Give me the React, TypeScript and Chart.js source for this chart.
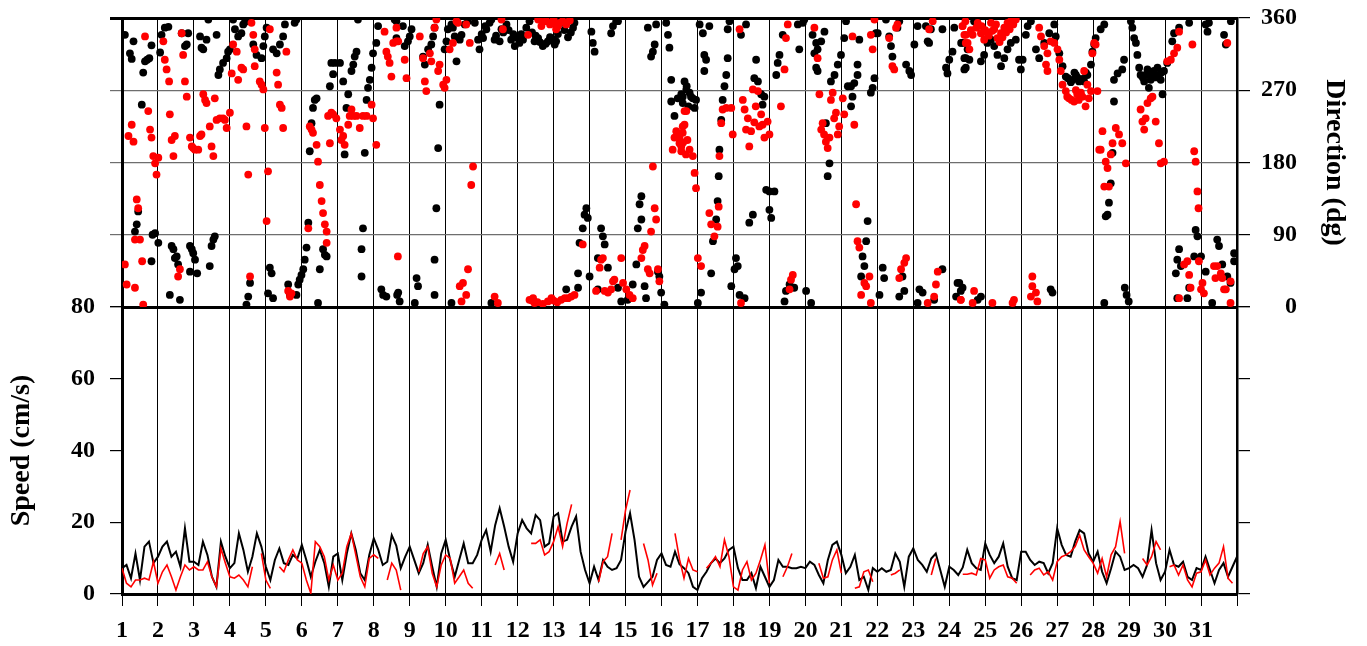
import { useEffect, useRef } from 'react';
import { Chart, registerables } from 'chart.js';

Chart.register(...registerables);

const FONT = '"Liberation Serif", "Times New Roman", Times, serif';

// ---- x axis (days) ----
const dayMin = 1;
const dayMax = 32;
const dayLabels = ['1','2','3','4','5','6','7','8','9','10','11','12','13','14','15','16','17','18','19','20','21','22','23','24','25','26','27','28','29','30','31',''];

// ---- tick labels ----
const speedTicks = [0, 20, 40, 60, 80];
const dirTickLabels = ['    0', '  90', '180', '270', '360'];

// ---- speed series (cm/s), one value every 3 h starting day 1.0 ----
const speedStart = 1;
const speedStep = 0.125;
const speedBlack = [
  7.2, 8.1, 4.4, 11.3, 3.9, 13.2, 14.6, 8.6,
  10.4, 13.2, 14.6, 10.4, 11.8, 7.6, 18.3, 9.0,
  9.0, 8.1, 14.6, 10.9, 4.8, 2.0, 14.6, 10.4,
  7.2, 8.6, 16.9, 12.3, 6.2, 10.4, 16.9, 13.2,
  7.6, 3.9, 9.5, 12.7, 8.6, 8.1, 10.9, 9.9,
  13.7, 9.5, 4.8, 9.0, 12.3, 8.6, 2.0, 10.4,
  11.3, 3.9, 11.3, 16.9, 12.3, 5.8, 3.9, 10.9,
  15.5, 12.3, 8.1, 9.0, 16.4, 13.5, 7.2, 10.4,
  13.2, 9.5, 5.8, 8.6, 13.7, 7.6, 2.0, 11.3,
  15.1, 9.5, 4.8, 9.5, 14.1, 8.6, 8.6, 10.9,
  15.1, 17.8, 11.8, 19.2, 23.9, 18.8, 13.2, 9.0,
  16.9, 20.6, 18.3, 16.9, 22.0, 20.6, 13.2, 14.1,
  21.6, 22.5, 14.6, 15.1, 18.8, 21.6, 11.8, 6.7,
  3.0, 7.6, 3.9, 9.5, 7.6, 6.7, 7.2, 9.5,
  17.4, 22.5, 15.1, 4.8, 2.0, 3.4, 4.8, 9.5,
  11.3, 8.1, 7.6, 11.8, 8.3, 7.2, 5.8, 2.0,
  1.1, 4.4, 6.2, 8.6, 9.9, 8.6, 9.9, 12.3,
  13.2, 7.2, 3.9, 3.9, 5.8, 1.6, 7.6, 4.8,
  2.0, 3.9, 9.5, 7.6, 7.6, 7.2, 7.2, 7.6,
  7.2, 9.0, 8.1, 5.3, 3.0, 9.5, 13.7, 14.6,
  10.9, 5.8, 7.6, 10.9, 3.9, 4.8, 1.1, 7.2,
  6.2, 7.2, 6.2, 6.7, 11.3, 9.0, 2.0, 10.4,
  12.7, 9.5, 8.1, 6.2, 9.9, 11.3, 6.7, 2.0,
  7.6, 6.7, 5.3, 7.4, 12.3, 8.6, 7.2, 6.7,
  14.1, 10.9, 8.6, 10.4, 14.1, 7.6, 4.4, 3.9,
  11.8, 11.8, 9.5, 8.1, 9.0, 8.6, 5.8, 8.6,
  18.3, 13.7, 10.9, 10.4, 14.6, 17.8, 16.9, 11.3,
  9.0, 11.8, 6.2, 3.0, 7.2, 11.8, 10.4, 6.7,
  7.2, 8.1, 7.2, 4.8, 8.1, 17.8, 8.6, 3.9,
  6.2, 12.3, 8.1, 7.6, 9.0, 4.8, 3.9, 7.2,
  6.7, 10.4, 6.7, 3.0, 6.7, 8.6, 4.8, 7.6,
  10.4,
];
const speedRed = [
  7.2, 3.0, 2.0, 3.9, 3.9, 4.4, 3.9, 9.0,
  3.0, 6.2, 8.1, 4.8, 1.1, 4.8, 8.1, 6.7,
  7.6, 6.7, 6.7, 9.0, 4.8, 2.0, 12.7, 8.6,
  4.8, 4.4, 5.3, 3.9, 2.0, 7.6, null, 11.3,
  3.9, 1.6, null, 7.6, 6.2, 9.5, 12.3, 9.5,
  8.6, 3.9, 0.2, 14.6, 13.2, 10.4, 3.9, 8.1,
  3.9, 5.8, 13.2, 16.9, 10.9, 4.8, 2.0, 9.9,
  10.9, 9.9, null, 3.9, 8.6, 6.7, 1.1, null,
  null, null, 6.2, 11.3, 13.2, 5.8, 2.0, 8.1,
  10.9, 9.9, 3.0, 4.8, 6.7, 3.0, 1.6, null,
  null, null, null, 8.1, 11.3, 6.7, null, null,
  null, null, null, 14.1, 14.1, 15.1, 10.9, 11.8,
  14.6, 18.8, 13.2, 19.7, 25.0, null, null, null,
  null, null, 3.4, 9.0, 10.4, 16.9, null, 15.1,
  23.4, 29.0, null, null, 14.1, 9.5, 2.5, 5.8,
  null, null, null, 16.9, 9.7, 4.4, 9.9, 6.7,
  6.2, null, 7.2, 8.6, 10.4, 7.6, 15.1, 10.4,
  2.0, 1.1, 6.7, 9.0, 3.9, 5.8, 9.5, 13.7,
  3.0, null, null, 4.8, 7.6, 11.3, null, null,
  null, null, null, 8.6, 4.4, 4.8, 9.5, 12.3,
  5.8, null, null, 1.6, 2.0, 6.2, 6.7, 3.4,
  null, null, null, 5.3, 5.8, 6.7, null, null,
  null, null, null, null, 5.3, 9.9, null, null,
  null, null, null, 5.5, 5.5, 5.8, 5.3, 9.9,
  9.5, 4.4, 6.7, 7.6, 8.1, 4.8, 4.4, 3.0,
  null, null, 5.3, 6.7, 7.2, 5.3, 6.2, 3.9,
  9.0, 10.4, 10.9, 11.8, 13.2, 16.4, 12.3, 10.4,
  8.6, 5.8, 9.9, 4.8, 10.9, 13.2, 20.2, 11.3,
  null, null, null, 9.9, 8.1, 10.4, 14.6, 12.3,
  null, 7.6, 8.1, 5.3, 8.1, 3.9, 2.0, 5.8,
  6.2, 9.5, 5.3, 7.2, 8.6, 13.2, 4.4, 3.0,
  null,
];

// ---- direction series: [day, degrees] ----
const dirBlack: [number, number][] = [
  [1.08,339],[1.22,316],[1.27,309],[1.32,331],[1.55,252],[1.59,292],[1.64,306],[1.70,308],[1.76,310],[1.82,326],
  [2.06,317],[2.10,339],[2.19,348],[2.29,349],[2.66,341],[2.75,325],[2.80,327],[2.84,341],[3.17,337],[3.21,323],
  [3.26,321],[3.35,333],[3.40,358],[3.63,339],[3.68,289],[3.72,296],[3.81,304],[3.91,310],[3.95,318],[4.0,321],
  [4.09,358],[4.14,346],[4.23,337],[4.32,341],[4.37,352],[4.42,355],[4.46,358],[4.65,327],[4.74,314],[4.88,310],
  [4.93,325],[4.97,337],[5.02,348],[5.20,321],[5.30,316],[5.39,327],[5.48,337],[5.53,352],[5.80,354],[5.85,358],
  [1.36,94],[1.41,103],[1.45,119],[1.85,90],[1.92,92],[2.01,80],[1.82,57],[2.33,15],[2.38,76],[2.43,72],
  [2.47,61],[2.52,63],[2.56,53],[2.61,9],[2.89,76],[2.94,72],[2.98,67],[3.03,59],[2.89,44],[3.09,42],
  [3.44,51],[3.49,76],[3.54,84],[3.58,88],[4.46,3],[4.51,13],[4.56,30],[5.06,17],[5.11,49],[5.16,42],
  [5.20,11],[5.62,28],[5.67,15],[5.85,15],[5.90,28],[5.94,34],[5.99,40],[6.04,47],[6.08,59],[6.13,74],
  [6.18,105],[6.22,194],[6.27,229],[6.31,248],[6.36,258],[6.41,260],[6.45,5],[6.50,47],[6.59,72],[6.64,65],
  [6.69,63],[6.78,275],[6.82,304],[6.87,290],[6.92,304],[7.06,304],[7.15,281],[7.19,190],[7.24,248],[7.29,265],
  [7.38,294],[7.43,302],[7.47,312],[7.52,318],[7.56,358],[7.66,72],[7.66,38],[7.70,98],[7.75,192],[7.80,258],
  [7.84,273],[7.89,283],[7.94,298],[7.98,316],[8.07,329],[8.12,350],[8.21,22],[8.26,15],[8.35,13],[8.58,358],
  [8.63,335],[8.65,15],
  [8.63,356],[8.81,350],[8.86,325],[8.95,331],[9.0,337],[9.05,346],[9.37,312],[9.42,302],[9.51,321],[9.60,327],
  [9.65,337],[9.69,348],[9.83,252],[9.79,198],[9.74,123],[9.69,59],[9.97,321],[10.02,331],[10.06,346],[10.16,352],
  [10.20,348],[10.25,337],[10.30,306],[10.39,333],[10.44,339],[10.53,352],[10.62,356],[10.81,354],[10.90,333],[10.94,321],
  [11.04,335],[11.13,346],[11.22,354],[11.27,358],[11.36,333],[11.50,331],[11.55,346],[11.69,352],[11.82,333],[11.92,325],
  [12.05,329],[12.15,333],[12.24,348],[12.33,356],[12.47,331],[12.57,335],[12.70,325],[12.84,331],[13.03,327],[13.07,331],
  [13.21,354],[13.54,348],[13.58,354],[14.05,343],[14.09,329],[14.14,318],[14.60,341],[14.65,350],[14.74,356],[14.79,356],
  [15.62,348],[15.71,312],[15.76,318],[15.81,327],[15.85,352],[16.13,354],[16.18,339],[16.22,323],[16.27,283],[16.27,256],
  [16.36,238],[16.45,260],[16.55,265],[16.59,254],
  [11.0,340],[11.1,350],[11.4,338],[11.6,342],[11.75,345],[11.88,340],[12.0,335],[12.1,340],[12.4,342],[12.5,338],
  [12.62,330],[12.78,328],[12.9,336],[13.0,333],[13.12,340],[13.3,345],[13.4,336],[13.48,342],
  [8.68,18],[8.72,7],[9.14,5],[9.19,36],[9.23,26],[9.69,15],[10.16,5],[11.27,5],[13.35,22],[13.68,24],
  [13.72,80],[13.81,98],[13.86,115],[13.91,123],[13.95,111],[13.68,42],[14.0,38],[14.23,61],[14.32,98],[14.37,88],
  [14.42,78],[14.51,49],[14.23,22],[14.79,24],[14.88,7],[15.06,9],[15.20,28],[15.30,53],[15.34,98],[15.44,109],
  [15.39,128],[15.44,138],[15.53,26],[15.57,11],[15.90,44],[15.94,38],[15.99,18],[16.08,3],
  [16.64,281],[16.69,271],[16.59,262],[16.78,267],[16.87,260],[16.92,248],[16.96,258],[16.7,275],[16.82,262],[16.75,250],
  [17.06,352],[17.15,341],[17.33,350],[17.19,314],[17.24,308],[17.19,294],[17.84,346],[17.89,356],[17.84,310],[17.80,289],
  [17.75,275],[17.70,258],[17.66,233],[17.61,196],[17.59,163],[17.56,132],[17.52,109],[17.43,82],[17.38,42],[18.21,339],
  [18.35,352],[18.63,308],[18.58,285],[18.68,281],[18.77,265],[18.86,262],[18.81,252],[18.91,146],[19.0,144],[19.14,144],
  [19.0,121],[19.05,111],[18.54,115],[18.44,105],[19.19,289],[19.23,304],[19.28,314],[19.37,339],[19.79,352],[19.93,354],
  [19.97,358],[19.83,321],[20.20,339],[20.30,329],[20.34,321],[20.44,331],[20.53,343],[20.25,316],[20.30,298],[20.34,294],
  [20.67,179],[20.62,163],[20.57,229],[20.71,281],[20.81,289],[20.90,302],[20.99,314],[21.08,335],[21.13,356],[21.18,275],
  [21.27,275],[21.31,262],[21.27,250],[21.36,279],[21.45,302],[21.50,333],[21.45,289],[21.82,267],[21.87,273],[21.92,285],
  [21.96,341],[22.01,341],[22.24,358],[22.33,337],[22.38,325],[22.42,312],[22.56,348],[22.61,356],[22.80,302],[22.89,294],
  [22.94,289],[23.03,327],[23.12,350],[23.35,350],[23.40,331],[23.44,329],[23.49,346],[23.81,346],[23.91,298],[23.95,291],
  [24.0,308],[24.09,318],[24.14,348],[24.33,329],[24.42,296],[24.46,310],[24.51,321],
  [17.10,18],[17.01,5],[18.03,47],[18.07,61],[18.12,51],[17.94,26],[18.17,15],[18.31,11],[19.42,7],[19.46,20],
  [19.56,28],[19.69,24],[20.02,20],[20.16,5],[21.59,63],[21.55,38],[21.64,51],[21.69,82],[21.73,107],[22.06,15],
  [22.15,49],[22.19,36],[22.61,13],[22.70,38],[22.75,20],[23.17,22],[23.26,18],[23.12,5],[23.58,9],[23.81,47],
  [24.23,30],[24.19,13],[24.32,20],
  [24.37,329],[24.42,310],[24.46,298],[24.56,308],[24.69,356],[24.88,306],[24.97,314],[25.06,329],[25.16,333],[25.25,325],
  [25.34,314],[25.44,300],[25.53,310],[25.62,321],[25.71,329],[25.85,333],[25.94,308],[25.99,296],[26.04,308],[26.13,339],
  [26.18,350],[26.27,356],[26.41,321],[26.50,310],[26.64,329],[26.78,341],[26.92,352],[26.96,337],[27.06,316],[27.15,300],
  [27.24,287],[27.43,283],[27.52,289],[27.61,281],[27.75,281],[27.84,289],[27.94,302],[27.98,318],[28.03,327],[28.07,335],
  [28.21,346],[28.31,352],[28.58,283],[28.68,291],[28.81,296],[28.86,308],[29.05,356],[29.09,348],[29.14,335],[29.19,329],
  [29.23,314],[29.28,298],[29.32,289],[29.42,281],[29.46,289],[29.51,296],[29.55,273],[29.60,283],[29.69,294],[29.79,298],
  [29.88,283],[29.93,265],[29.83,289],[29.97,294],[30.06,304],[30.20,331],[30.25,341],[30.39,348],[30.67,354],[31.13,352],
  [31.22,354],[31.18,343],[31.64,339],[31.69,327],[31.83,356],[28.58,256],
  [27.3,285],[27.38,280],[27.48,292],[27.56,286],[27.7,284],[27.8,292],[29.38,286],[29.62,290],[29.74,286],[29.9,292],
  [28.54,192],[28.49,154],[28.44,130],[28.40,115],[28.35,113],
  [24.28,30],[24.37,24],[24.79,9],[24.88,13],[26.82,22],[26.87,18],[28.31,5],[28.88,24],[28.93,15],[28.99,7],
  [30.85,96],[30.90,88],[30.81,63],[30.39,72],[30.34,59],[30.30,42],[30.44,51],[30.67,24],[30.62,11],[30.34,11],
  [31.0,63],[31.13,44],[31.31,5],[31.45,84],[31.50,76],[31.59,53],[31.73,38],[31.82,30],[31.92,67],[31.92,57],
];

const dirRed: [number, number][] = [
  [1.08,53],[1.13,28],[1.36,24],[1.59,3],[1.18,213],[1.27,227],[1.32,206],[1.41,134],[1.45,123],[1.36,84],
  [1.50,84],[1.56,57],[1.64,337],[1.73,244],[1.78,221],[1.82,211],[1.87,188],[1.92,179],[1.96,165],[2.01,186],
  [2.15,331],[2.19,308],[2.24,296],[2.31,281],[2.33,240],[2.38,208],[2.43,188],[2.47,213],[2.56,38],[2.61,47],
  [2.66,341],[2.70,314],[2.75,281],[2.80,262],[2.89,211],[2.94,200],[2.98,198],[3.03,196],[3.12,196],[3.17,213],
  [3.21,215],[3.26,265],[3.31,258],[3.35,254],[3.44,225],[3.49,200],[3.54,188],[3.58,260],[3.63,233],[3.72,235],
  [3.81,235],[3.86,233],[3.91,223],[4.0,242],[4.05,291],[4.09,327],[4.19,318],[4.23,283],[4.32,298],[4.37,296],
  [4.46,225],[4.51,165],[4.56,38],[4.6,354],[4.65,339],[4.69,321],[4.69,300],[4.83,281],[4.88,277],[4.93,271],
  [4.97,223],[5.02,107],[5.06,169],[5.11,346],[5.30,292],[5.34,277],[5.39,252],[5.44,248],[5.48,223],[5.57,318],
  [5.62,20],[5.67,13],[5.71,17],[6.18,98],[6.22,225],[6.27,221],[6.31,217],[6.41,202],[6.45,181],[6.50,152],
  [6.55,132],[6.59,117],[6.64,103],[6.69,94],[6.69,80],[6.73,238],[6.78,204],[6.82,242],[6.87,240],[6.96,235],
  [7.06,221],[7.10,208],[7.15,213],[7.19,202],[7.29,227],[7.33,238],[7.38,246],[7.43,238],[7.52,238],[7.61,223],
  [7.70,238],[7.80,238],[7.94,252],[7.98,235],[8.07,202],[8.30,343],[8.35,318],[8.39,312],[8.44,304],[8.49,287],
  [8.54,329],[8.63,331],[8.67,63],
  [8.63,348],[8.68,331],[8.86,308],[8.91,285],[9.28,337],[9.37,310],[9.42,281],[9.46,269],[9.56,316],[9.60,306],
  [9.69,348],[9.74,358],[9.79,294],[9.83,302],[9.93,277],[9.97,273],[10.02,283],[10.11,321],[10.20,329],[10.30,356],
  [10.34,354],[10.57,352],[10.67,329],[10.76,175],[10.71,152],[10.39,26],[10.48,30],[10.57,15],[10.62,47],[10.44,7],
  [11.36,13],[11.45,5],[11.55,358],[11.59,346],[12.29,339],[12.33,9],[12.43,11],[12.47,5],[12.57,358],[12.66,350],
  [12.80,356],[12.84,7],[12.94,11],[12.98,354],[13.07,346],[13.17,354],[13.21,9],[13.31,11],[13.40,11],[13.49,13],
  [13.58,15],[13.81,78],
  [12.7,355],[12.9,352],[13.0,358],[13.12,350],[13.25,356],[13.35,352],[13.45,357],[12.4,8],[12.55,6],[12.7,4],
  [13.1,6],[13.0,8],
  [14.18,20],[14.28,49],[14.32,59],[14.37,61],[14.42,20],[14.51,18],[14.60,22],[14.65,32],[14.69,34],[14.88,61],
  [14.93,30],[15.02,22],[15.11,15],[15.20,11],[15.44,61],[15.48,71],[15.53,76],[15.62,47],[15.67,42],[15.71,94],
  [15.76,175],[15.81,123],[15.85,109],[15.90,47],[15.94,32],[16.31,196],[16.36,211],[16.41,219],[16.50,204],[16.55,194],
  [16.59,225],[16.64,244],
  [16.5,211],[16.55,200],[16.59,217],[16.64,227],[16.69,244],[16.78,196],[16.87,188],[16.92,167],[16.96,148],[17.01,61],
  [17.10,51],[17.33,117],[17.38,103],[17.47,88],[17.56,100],[17.59,125],[17.61,188],[17.66,229],[17.70,246],[17.80,248],
  [17.94,248],[17.98,215],[18.31,246],[18.26,258],[18.35,221],[18.49,219],[18.44,200],[18.54,271],[18.68,269],[18.77,240],
  [18.81,227],[18.86,211],[18.95,231],[19.0,215],[18.17,346],[19.32,250],[19.42,296],[19.46,335],[19.51,352],[19.60,34],
  [19.65,40],[19.56,22],[18.21,5],[20.25,348],[20.34,310],[20.39,265],[20.44,221],[20.48,229],[20.57,206],[20.62,198],
  [20.67,211],[20.71,258],[20.76,267],[20.85,242],[20.94,225],[21.04,260],[21.08,240],[21.36,227],[21.31,337],[21.41,128],
  [21.45,82],[21.50,74],[21.55,15],[21.64,30],[21.69,26],[21.78,38],[21.82,5],[21.82,339],[21.87,321],[21.92,358],
  [22.33,335],[22.42,300],[22.47,296],[22.52,348],[22.56,352],[22.61,36],[22.66,47],[22.75,55],[22.80,61],[23.44,346],
  [23.54,356],[23.40,5],[23.58,13],[23.63,28],[23.68,44],[24.32,9],[24.37,350],[24.42,339],[24.46,329],
  [16.45,215],[16.6,205],[16.68,190],[16.72,208],[18.4,235],[18.58,230],[18.62,250],[18.72,225],[20.52,215],[20.8,235],
  [20.9,215],
  [24.37,350],[24.46,339],[24.51,329],[24.56,321],[24.65,339],[24.79,354],[24.88,341],[24.97,333],[25.06,341],[25.16,354],
  [25.25,346],[25.34,335],[25.44,341],[25.53,348],[25.62,354],[25.71,356],[25.85,358],[26.50,348],[26.55,337],[26.64,325],
  [26.73,316],[26.82,331],[26.92,329],[27.01,321],[27.06,308],[27.10,294],[26.69,302],[26.73,294],[27.15,277],[27.24,269],
  [27.33,260],[27.47,256],[27.56,265],[27.66,267],[27.79,250],[27.84,277],[27.94,269],[28.12,269],[27.75,294],[27.98,316],
  [28.03,329],[28.07,327],[28.26,219],[28.17,196],[28.21,196],[28.35,181],[28.40,173],[28.44,150],[28.31,150],[28.49,190],
  [28.54,204],[28.63,223],[28.72,215],[28.81,204],[28.91,179],[29.32,246],[29.37,231],[29.42,221],[29.46,235],[29.51,254],
  [29.60,260],[29.65,262],[29.74,231],[29.83,204],[29.88,179],[29.97,181],[30.06,306],[30.16,308],[30.25,316],[30.34,323],
  [30.39,343],[30.76,327],[30.81,194],[30.85,181],[30.90,144],[30.93,123],[31.73,329],[30.39,11],[30.53,53],[30.62,57],
  [30.67,40],[30.71,24],[30.94,57],[31.0,22],[31.04,30],[31.08,17],[31.36,51],[31.45,51],[31.40,36],[31.55,42],
  [31.59,36],[31.64,22],[31.69,22],[31.82,32],[31.82,5],[24.32,9],[24.69,20],[24.65,5],[25.2,5],[25.76,5],
  [25.80,9],[26.31,38],[26.31,26],[26.27,13],[26.41,18],[26.45,7],
  [24.45,356],[24.6,345],[24.75,348],[24.9,350],[25.0,345],[25.1,338],[25.2,344],[25.3,352],[25.4,330],[25.48,336],
  [25.58,342],[25.68,346],[25.78,352],
  [27.28,262],[27.4,258],[27.52,270],[27.6,258],[27.7,262],[27.88,260],
];

const W = 1367;
const H = 646;
const PLOT_LEFT = 122;
const RIGHT_W = 130;
const DIVIDE_Y = 307;
const TOP_Y = 18;
const BOTTOM_AXIS_H = 52;

const tickFont = { family: FONT, size: 24, weight: 'bold' as const };
const titleFont = { family: FONT, size: 28, weight: 'bold' as const };

const fixW = (w: number) => (s: any) => { s.width = w; s.paddingTop = 0; s.paddingBottom = 0; };

export default function App() {
  const topRef = useRef<HTMLCanvasElement>(null);
  const botRef = useRef<HTMLCanvasElement>(null);

  useEffect(() => {
    document.body.style.margin = '0';
    const dayOf = (i: number) => speedStart + i * speedStep;

    const topChart = new Chart(topRef.current!, {
      type: 'scatter',
      data: {
        datasets: [
          {
            label: 'dir2',
            data: dirRed.map(([x, y]) => ({ x, y })),
            backgroundColor: '#ff0000',
            borderWidth: 0,
            pointRadius: 3.9,
            pointHoverRadius: 3.9,
            clip: 0,
            xAxisID: 'x',
            yAxisID: 'y',
          },
          {
            label: 'dir1',
            data: dirBlack.map(([x, y]) => ({ x, y })),
            backgroundColor: '#000000',
            borderWidth: 0,
            pointRadius: 3.9,
            pointHoverRadius: 3.9,
            clip: 0,
            xAxisID: 'x',
            yAxisID: 'y',
          },
        ],
      },
      options: {
        responsive: false,
        animation: false,
        events: [],
        layout: { padding: { left: 0, right: 0, top: TOP_Y, bottom: H - DIVIDE_Y } },
        plugins: { legend: { display: false }, tooltip: { enabled: false } },
        scales: {
          x: {
            type: 'linear',
            min: dayMin,
            max: dayMax,
            position: 'bottom',
            ticks: { display: false, stepSize: 1 },
            grid: { color: '#000', lineWidth: 1, drawTicks: false },
            border: { display: true, color: '#000', width: 3 },
            afterFit: (s: any) => { s.height = 0; s.paddingLeft = 0; s.paddingRight = 0; },
          },
          y: {
            type: 'linear',
            position: 'left',
            min: 0,
            max: 360,
            ticks: { display: false, stepSize: 90 },
            grid: {
              color: (c: any) => (c.tick && (c.tick.value === 360 || c.tick.value === 0) ? '#000' : '#6e6e6e'),
              lineWidth: (c: any) => (c.tick && c.tick.value === 360 ? 3 : 1.2),
              tickLength: 12,
            },
            border: { display: true, color: '#000', width: 3 },
            afterFit: fixW(PLOT_LEFT),
          },
          yr: {
            type: 'linear',
            position: 'right',
            min: 0,
            max: 360,
            ticks: {
              stepSize: 90,
              color: '#000',
              font: tickFont,
              padding: 11,
              callback: (v: any) => dirTickLabels[Math.round(Number(v) / 90)],
            },
            grid: { drawOnChartArea: false, color: '#000', lineWidth: 1.2, tickLength: 13 },
            border: { display: true, color: '#000', width: 2.5 },
            title: {
              display: true,
              text: 'Direction (dg)',
              color: '#000',
              font: titleFont,
              padding: { top: 16, bottom: 0 },
            },
            afterFit: fixW(RIGHT_W),
          },
        },
      },
    } as any);

    const botChart = new Chart(botRef.current!, {
      type: 'line',
      data: {
        datasets: [
          {
            label: 'speed2',
            data: speedRed.map((v, i) => ({ x: dayOf(i), y: v })),
            borderColor: '#ff0000',
            borderWidth: 1.6,
            pointRadius: 0,
            tension: 0,
            spanGaps: false,
            fill: false,
          },
          {
            label: 'speed1',
            data: speedBlack.map((v, i) => ({ x: dayOf(i), y: v })),
            borderColor: '#000000',
            borderWidth: 2,
            pointRadius: 0,
            tension: 0,
            fill: false,
          },
        ],
      },
      options: {
        responsive: false,
        animation: false,
        events: [],
        layout: { padding: { left: 0, right: 0, top: DIVIDE_Y, bottom: 0 } },
        plugins: { legend: { display: false }, tooltip: { enabled: false } },
        scales: {
          x: {
            type: 'linear',
            min: dayMin,
            max: dayMax,
            position: 'bottom',
            ticks: {
              stepSize: 1,
              autoSkip: false,
              maxRotation: 0,
              color: '#000',
              font: tickFont,
              padding: 10,
              callback: (v: any) => dayLabels[Math.round(Number(v)) - dayMin],
            },
            grid: { color: '#000', lineWidth: 1, tickLength: 12 },
            border: { display: true, color: '#000', width: 3 },
            afterFit: (s: any) => { s.height = BOTTOM_AXIS_H; s.paddingLeft = 0; s.paddingRight = 0; },
          },
          y: {
            type: 'linear',
            position: 'left',
            min: 0,
            max: 80,
            afterBuildTicks: (s: any) => { s.ticks = speedTicks.map((value) => ({ value })); },
            ticks: { color: '#000', font: tickFont, padding: 15 },
            grid: { drawOnChartArea: false, color: '#000', lineWidth: 1.2, tickLength: 12 },
            border: { display: true, color: '#000', width: 3 },
            title: {
              display: true,
              text: 'Speed (cm/s)',
              color: '#000',
              font: titleFont,
              padding: { top: 5, bottom: 0 },
            },
            afterFit: fixW(PLOT_LEFT),
          },
          yr: {
            type: 'linear',
            position: 'right',
            min: 0,
            max: 80,
            afterBuildTicks: (s: any) => { s.ticks = speedTicks.map((value) => ({ value })); },
            ticks: { display: false },
            grid: { drawOnChartArea: false, color: '#000', lineWidth: 1.2, tickLength: 13 },
            border: { display: true, color: '#000', width: 2.5 },
            afterFit: fixW(RIGHT_W),
          },
        },
      },
    } as any);

    return () => {
      topChart.destroy();
      botChart.destroy();
    };
  }, []);

  return (
    <div style={{ position: 'relative', width: W, height: H, overflow: 'hidden', background: '#fff' }}>
      <canvas ref={topRef} width={W} height={H} style={{ position: 'absolute', left: 0, top: 0, display: 'block' }} />
      <canvas ref={botRef} width={W} height={H} style={{ position: 'absolute', left: 0, top: 0, display: 'block' }} />
    </div>
  );
}
